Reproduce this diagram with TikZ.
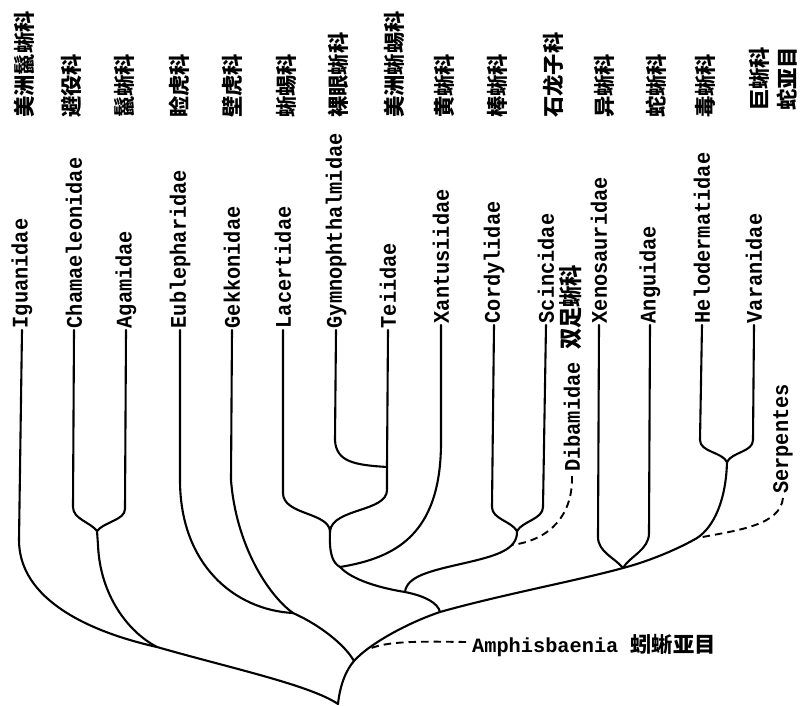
\documentclass[tikz,border=0pt]{standalone}
\usepackage{fontspec}
\newfontfamily\latfam{Liberation Mono}
\newfontfamily\cjkfam{Noto Sans CJK SC}
\newcommand\latf{\latfam\bfseries\fontsize{20.3}{22}\selectfont}
\newcommand\cjkf{\cjkfam\bfseries\fontsize{21.3}{22}\selectfont}
\begin{document}
\begin{tikzpicture}[x=1pt,y=-1pt,
  br/.style={line width=2.1pt, line cap=round, line join=round},
  dsh/.style={line width=1.9pt, dash pattern=on 7.5pt off 5pt},
  lat/.style={font=\latf, rotate=90, yscale=1.1, anchor=west, inner sep=1.5pt},
  zh/.style={font=\cjkf, rotate=90, anchor=west, inner sep=0pt}]
\useasboundingbox[fill=white] (0,0) rectangle (801,706);

% Chinese family labels
\node[zh] (z1) at (24,118) {美洲鬣蜥科};
\node[zh] (z2) at (71,118) {避役科};
\node[zh] (z3) at (124,118) {鬣蜥科};
\node[zh] (z4) at (179,118) {睑虎科};
\node[zh] (z5) at (232,118) {壁虎科};
\node[zh] (z6) at (286,118) {蜥蜴科};
\node[zh] (z7) at (338,118) {裸眼蜥科};
\node[zh] (z8) at (394,118) {美洲蜥蜴科};
\node[zh] (z9) at (444,118) {黄蜥科};
\node[zh] (z10) at (497,118) {棒蜥科};
\node[zh] (z11) at (553,118) {石龙子科};
\node[zh] (z12) at (604,118) {异蜥科};
\node[zh] (z13) at (656,118) {蛇蜥科};
\node[zh] (z14) at (705,118) {毒蜥科};
\node[zh] (z15) at (759,111) {巨蜥科};
\node[zh] (z16) at (787,111) {蛇亚目};

% Latin tip labels
\node[lat] (igu) at (22,330) {Iguanidae};
\node[lat] (cha) at (74,330) {Chamaeleonidae};
\node[lat] (aga) at (126,330) {Agamidae};
\node[lat] (eub) at (180,330) {Eublepharidae};
\node[lat] (gek) at (232,330) {Gekkonidae};
\node[lat] (lac) at (283,330) {Lacertidae};
\node[lat] (gym) at (336,330) {Gymnophthalmidae};
\node[lat] (tei) at (388,330) {Teiidae};
\node[lat] (xan) at (441,325) {Xantusiidae};
\node[lat] (cor) at (494,325) {Cordylidae};
\node[lat] (sci) at (546,325) {Scincidae};
\node[lat] (xen) at (599,325) {Xenosauridae};
\node[lat] (ang) at (650,325) {Anguidae};
\node[lat] (hel) at (702,325) {Helodermatidae};
\node[lat] (var) at (754,325) {Varanidae};

% side labels
\node[lat, inner sep=0pt] (dib) at (571,472) {Dibamidae {\cjkf 双足蜥科}};
\node[lat, inner sep=0pt] (ser) at (783,494) {Serpentes};
\node[font=\latf, anchor=base west, inner sep=0pt] (amp) at (472,652) {Amphisbaenia {\cjkf 蚓蜥亚目}};

% internal nodes
\coordinate (R) at (338,704);
\coordinate (I1) at (157,647);
\coordinate (I2) at (97,531);
\coordinate (G1) at (293,613);
\coordinate (S1) at (354,661);
\coordinate (S2) at (440,612);
\coordinate (S3) at (623,568);
\coordinate (SA) at (697,538);
\coordinate (V) at (727,462);
\coordinate (L1) at (330,531);
\coordinate (GT) at (387,467);
\coordinate (Sc0) at (340,567);
\coordinate (CJ) at (405,592);
\coordinate (CS) at (517,531);

% Iguania
\draw[br] (igu.west) -- (19,540) .. controls (19,600) and (90,632) .. (I1);
\draw[br] (cha.west) -- (73,507) .. controls (73,519) and (90,522) .. (I2);
\draw[br] (aga.west) -- (125,509) .. controls (125,520) and (104,522) .. (I2);
\draw[br] (I2) -- (98,545) .. controls (100,595) and (128,632) .. (I1);
\draw[br] (I1) .. controls (230,668) and (310,685) .. (R);

% Gekkota
\draw[br] (eub.west) -- (180,480) .. controls (180,565) and (235,610) .. (G1);
\draw[br] (gek.west) -- (231,480) .. controls (236,545) and (268,595) .. (G1);
\draw[br] (G1) .. controls (320,625) and (345,645) .. (S1);

% main stem
\draw[br] (R) .. controls (340,685) and (346,670) .. (S1)
  .. controls (370,643) and (410,622) .. node[coordinate, pos=0.2] (AA) {} (S2)
  .. controls (500,595) and (580,580) .. (S3)
  .. controls (650,561) and (680,548) .. (SA)
  .. controls (714,527) and (726,500) .. (V);

% Scincomorpha
\draw[br] (lac.west) -- (283,493) .. controls (283,515) and (328,512) .. (L1);
\draw[br] (gym.west) -- (335,440) .. controls (336,462) and (355,465) .. (GT);
\draw[br] (tei.west) -- (GT) -- (387,490) .. controls (387,512) and (333,508) .. (L1);
\draw[br] (L1) .. controls (329,555) and (333,563) .. (Sc0);
\draw[br] (xan.west) -- (441,445) .. controls (440,535) and (395,558) .. (Sc0);
\draw[br] (Sc0) .. controls (352,580) and (380,588) .. (CJ)
  .. controls (425,596) and (438,603) .. (S2);
\draw[br] (cor.west) -- (492,507) .. controls (492,519) and (511,521) .. (CS);
\draw[br] (sci.west) -- (543,507) .. controls (543,519) and (523,521) .. (CS);
\draw[br] (CS) .. controls (518,550) and (495,556) .. node[coordinate, pos=0.3] (DA) {} (465,563)
  .. controls (430,571) and (407,576) .. (CJ);

% Anguimorpha
\draw[br] (xen.west) -- (598,537) .. controls (598,552) and (615,558) .. (S3);
\draw[br] (ang.west) -- (649,533) .. controls (649,550) and (630,556) .. (S3);
\draw[br] (hel.west) -- (700,440) .. controls (700,452) and (722,452) .. (V);
\draw[br] (var.west) -- (753,440) .. controls (753,452) and (732,452) .. (V);

% dashed connectors
\draw[dsh] (dib.west) ++(1,4) .. controls (573,515) and (550,540) .. (DA);
\draw[dsh] (ser.west) ++(0,4) .. controls (780,525) and (740,530) .. (SA);
\draw[dsh] (amp.west) ++(-6,-3) .. controls (405,641) and (385,642) .. (AA);
\end{tikzpicture}
\end{document}
